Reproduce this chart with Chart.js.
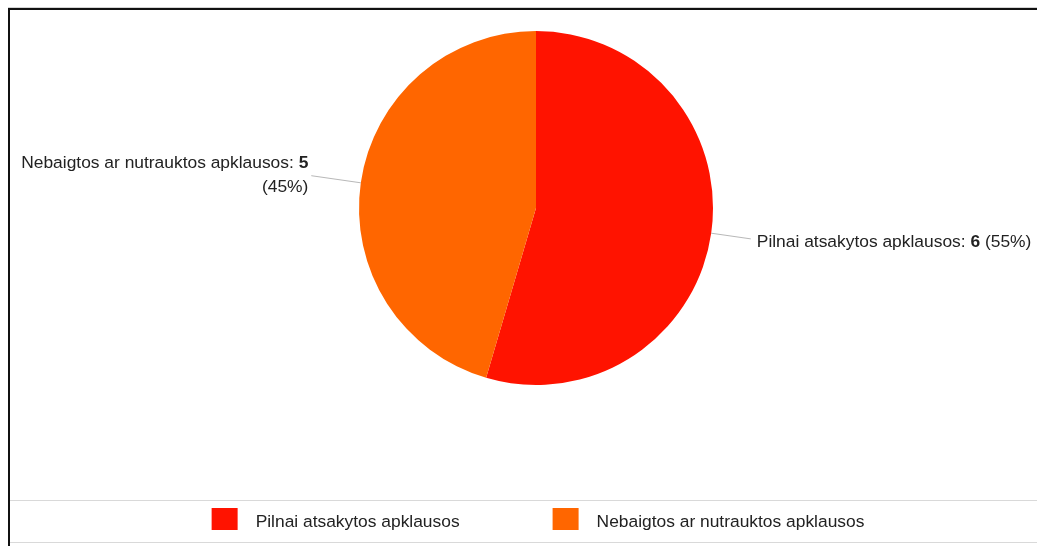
<!DOCTYPE html>
<html>
<head>
<meta charset="utf-8">
<script src="https://cdn.jsdelivr.net/npm/chart.js@4"></script>
<style>
  body { margin: 0; background: #fff; }
  canvas { display: block; }
</style>
</head>
<body>
<canvas id="pieChart" width="1037" height="546"></canvas>
<script>
// data
const categories = ['Pilnai atsakytos apklausos', 'Nebaigtos ar nutrauktos apklausos'];
const counts = [6, 5];
const sliceColors = ['#ff1300', '#ff6600'];

const FONT = '"Liberation Sans", Arial, sans-serif';
const FONT_SIZE = 17.4;
const TEXT_COLOR = '#222';

// frame: black top/left border and grey lines around the legend
const framePlugin = {
    id: 'frame',
    beforeDraw(chart) {
        const ctx = chart.ctx;
        ctx.save();
        ctx.fillStyle = '#fff';
        ctx.fillRect(0, 0, chart.width, chart.height);
        ctx.fillStyle = '#d4d4d4';
        ctx.fillRect(8, 7, chart.width, 1);
        ctx.fillStyle = '#111';
        ctx.fillRect(8, 8, chart.width, 2);
        ctx.fillRect(8, 8, 2, chart.height);
        ctx.fillStyle = '#d9d9d9';
        ctx.fillRect(10, 500, chart.width, 1);
        ctx.fillRect(10, 542, chart.width, 1);
        ctx.restore();
    }
};

function drawParts(ctx, parts, x, y, align) {
    let w = 0;
    parts.forEach(p => {
        ctx.font = (p.bold ? 'bold ' : '') + FONT_SIZE + 'px ' + FONT;
        p.w = ctx.measureText(p.text).width;
        w += p.w;
    });
    let cx = align === 'right' ? x - w : x;
    parts.forEach(p => {
        ctx.font = (p.bold ? 'bold ' : '') + FONT_SIZE + 'px ' + FONT;
        ctx.fillText(p.text, cx, y);
        cx += p.w;
    });
    return w;
}

function partsWidth(ctx, parts) {
    let w = 0;
    parts.forEach(p => {
        ctx.font = (p.bold ? 'bold ' : '') + FONT_SIZE + 'px ' + FONT;
        w += ctx.measureText(p.text).width;
    });
    return w;
}

// slice labels with leader lines
const sliceLabels = {
    id: 'sliceLabels',
    afterDatasetsDraw(chart) {
        const ctx = chart.ctx;
        const ds = chart.data.datasets[0];
        const total = ds.data.reduce((a, b) => a + b, 0);
        const meta = chart.getDatasetMeta(0);
        ctx.save();
        ctx.textBaseline = 'middle';
        ctx.fillStyle = TEXT_COLOR;
        meta.data.forEach((arc, i) => {
            const p = arc.getProps(['x', 'y', 'startAngle', 'endAngle', 'outerRadius'], true);
            const mid = (p.startAngle + p.endAngle) / 2;
            const cos = Math.cos(mid), sin = Math.sin(mid);
            const right = cos >= 0;
            const ext = right ? 40 : 50;
            const x1 = p.x + cos * p.outerRadius, y1 = p.y + sin * p.outerRadius;
            const x2 = p.x + cos * (p.outerRadius + ext), y2 = p.y + sin * (p.outerRadius + ext);

            ctx.strokeStyle = '#b8b8b8';
            ctx.lineWidth = 1;
            ctx.beginPath();
            ctx.moveTo(x1, y1);
            ctx.lineTo(x2, y2);
            ctx.stroke();

            const value = ds.data[i];
            const pct = Math.round(value / total * 100);
            const line1 = [
                { text: chart.data.labels[i] + ': ' },
                { text: String(value), bold: true }
            ];
            const pctPart = { text: ' (' + pct + '%)' };
            ctx.fillStyle = TEXT_COLOR;
            if (right) {
                drawParts(ctx, line1.concat([pctPart]), x2 + 6, y2 + 3, 'left');
            } else {
                const tx = x2 - 3;
                const full = partsWidth(ctx, line1.concat([pctPart]));
                if (tx - full < 14) {
                    drawParts(ctx, line1, tx, y2 - 12, 'right');
                    drawParts(ctx, [{ text: '(' + pct + '%)' }], tx, y2 + 12, 'right');
                } else {
                    drawParts(ctx, line1.concat([pctPart]), tx, y2, 'right');
                }
            }
        });
        ctx.restore();
    }
};

// legend at the bottom
const bottomLegend = {
    id: 'bottomLegend',
    afterDraw(chart) {
        const ctx = chart.ctx;
        const ds = chart.data.datasets[0];
        const boxW = 26, boxH = 22, textGap = 18, itemGap = 93;
        ctx.save();
        ctx.font = FONT_SIZE + 'px ' + FONT;
        const widths = chart.data.labels.map(l => ctx.measureText(l).width);
        let total = 0;
        widths.forEach(w => { total += boxW + textGap + w; });
        total += itemGap * (widths.length - 1);
        let x = 538 - total / 2;
        const cy = 521;
        ctx.textBaseline = 'middle';
        chart.data.labels.forEach((l, i) => {
            ctx.fillStyle = ds.backgroundColor[i];
            ctx.fillRect(x, cy - boxH / 2 - 2, boxW, boxH);
            ctx.fillStyle = TEXT_COLOR;
            ctx.fillText(l, x + boxW + textGap, cy + 1);
            x += boxW + textGap + widths[i] + itemGap;
        });
        ctx.restore();
    }
};

new Chart(document.getElementById('pieChart'), {
    type: 'pie',
    data: {
        labels: categories,
        datasets: [{
            data: counts,
            backgroundColor: sliceColors,
            borderWidth: 0
        }]
    },
    options: {
        responsive: false,
        animation: false,
        layout: { padding: { top: 31, bottom: 161, left: 100, right: 65 } },
        plugins: {
            legend: { display: false },
            tooltip: { enabled: false }
        }
    },
    plugins: [framePlugin, sliceLabels, bottomLegend]
});
</script>
</body>
</html>
